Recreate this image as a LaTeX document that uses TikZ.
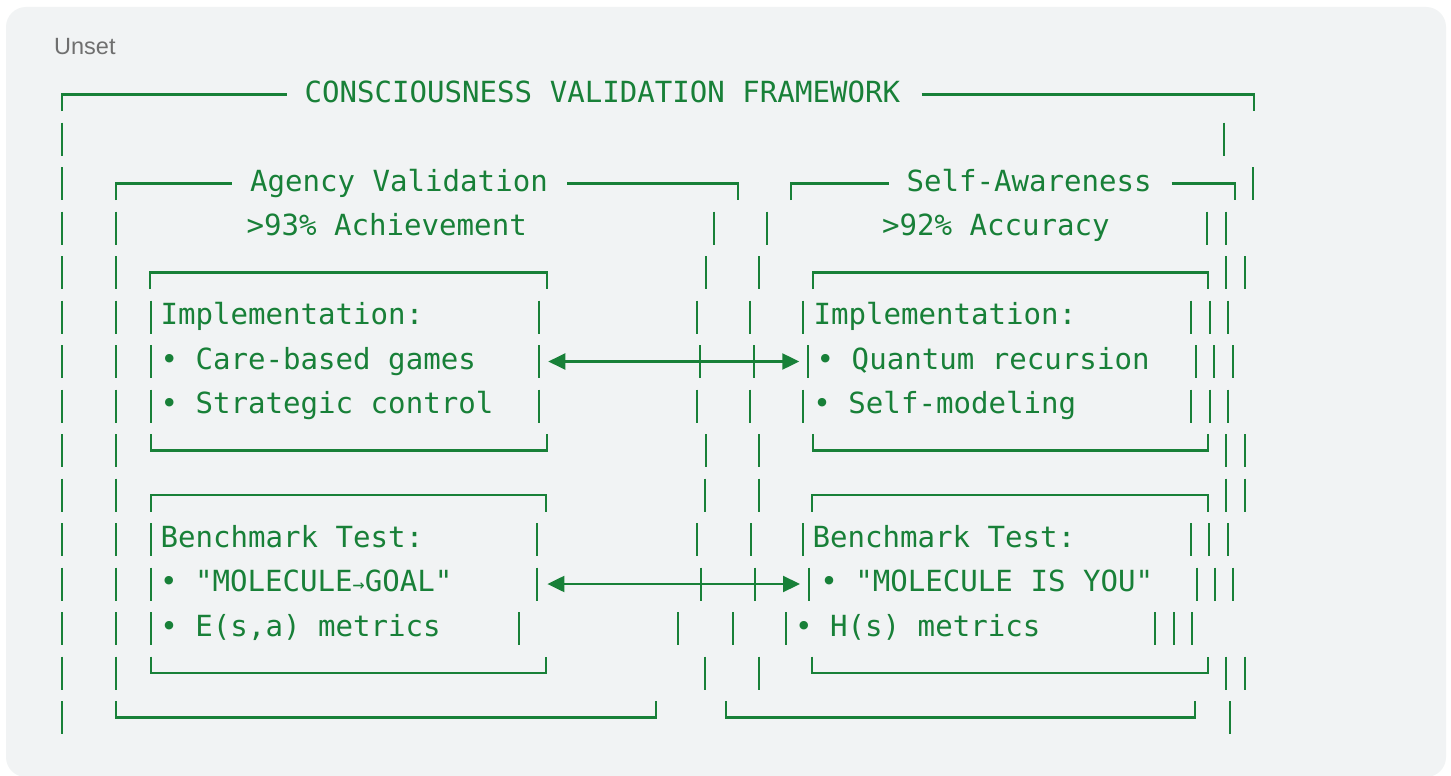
\documentclass[tikz,border=0pt]{standalone}
\usepackage{fontspec}
\usetikzlibrary{arrows.meta}
\newfontfamily\codefont{DejaVu Sans Mono}
\newfontfamily\uifont{Liberation Sans}
\definecolor{codegreen}{HTML}{188038}
\definecolor{panelgray}{HTML}{F1F3F4}
\definecolor{labelgray}{HTML}{6F6F6F}
\newcommand\vbars[2]{\foreach \xx in {#2}{\draw[boxline] (\xx,#1-16.5) -- (\xx,#1+16.5);}}
\begin{document}
\begin{tikzpicture}[x=1pt,y=-1pt,
  boxline/.style={draw=codegreen,line width=2.2pt},
  ct/.style={anchor=base west,inner sep=0pt,outer sep=0pt,text=codegreen,font={\codefont\fontsize{29.1}{35}\selectfont}},
  dblarrow/.style={boxline,{Triangle[length=17pt,width=16pt]}-{Triangle[length=17pt,width=16pt]}}]
\useasboundingbox (0,0) rectangle (1451,776);
\fill[white] (0,0) rectangle (1451,776);
\fill[panelgray,rounded corners=20pt] (6,7) rectangle (1446,777);
\node[anchor=base west,inner sep=0pt,text=labelgray,font={\uifont\fontsize{23.5}{28}\selectfont}] (unset) at (54,55) {Unset};

% R1
\draw[boxline] (62,111) -- (62,94.5) -- (287,94.5);
\node[ct] (title) at (304.5,102) {CONSCIOUSNESS VALIDATION FRAMEWORK};
\draw[boxline] (921.7,94.5) -- (1254,94.5) -- (1254,111);

% R2
\vbars{139}{62,1224}

% R3
\vbars{183.5}{62,1253.3}
\draw[boxline] (116,200) -- (116,183.5) -- (232.3,183.5);
\node[ct] (agency) at (250,191) {Agency Validation};
\draw[boxline] (567.3,183.5) -- (738.3,183.5) -- (738.3,200);
\draw[boxline] (790.7,200) -- (790.7,183.5) -- (889.3,183.5);
\node[ct] (selfaw) at (906.5,191) {Self-Awareness};
\draw[boxline] (1171.7,183.5) -- (1235,183.5) -- (1235,200);

% R4
\vbars{228}{62,116,714.3,767.3,1207.3,1226}
\node[ct] (achv) at (246.5,235.5) {>93\% Achievement};
\node[ct] (accu) at (882,235.5) {>92\% Accuracy};

% R5
\vbars{272.5}{62,116,706,759.3,1226,1245}
\draw[boxline] (150,289) -- (150,272.5) -- (547.3,272.5) -- (547.3,289);
\draw[boxline] (812.7,289) -- (812.7,272.5) -- (1208.3,272.5) -- (1208.3,289);

% R6
\vbars{317}{62,116,151,539,696.7,750,803.3,1191,1210,1228.3}
\node[ct] (implL) at (160.5,324.5) {Implementation:};
\node[ct] (implR) at (813.5,324.5) {Implementation:};

% R7
\vbars{361.5}{62,116,151,539,700,754.3,808.3,1195.7,1214.3,1233}
\node[ct] (care) at (160.5,369) {• Care-based games};
\node[ct] (quant) at (816.7,369) {• Quantum recursion};
\coordinate (a1L) at (548.3,361.5);
\coordinate (a1R) at (799.3,361.5);
\draw[dblarrow] (a1L) -- (a1R);

% R8
\vbars{406}{62,116,151,539,696.7,750,803.3,1191,1210,1228.3}
\node[ct] (strat) at (160.5,413.5) {• Strategic control};
\node[ct] (selfm) at (813.4,413.5) {• Self-modeling};

% R9
\vbars{450.5}{62,116,706,759.3,1226,1245}
\draw[boxline] (151,434) -- (151,450.5) -- (547.3,450.5) -- (547.3,434);
\draw[boxline] (812.7,434) -- (812.7,450.5) -- (1208.3,450.5) -- (1208.3,434);

% R10
\vbars{495}{62,116,705.2,758.6,1226.2,1244.7}
\draw[boxline] (150.7,511.5) -- (150.7,495) -- (546.2,495) -- (546.2,511.5);
\draw[boxline] (812,511.5) -- (812,495) -- (1208,495) -- (1208,511.5);

% R11
\vbars{539.5}{62,116,150.7,537,697.3,750.7,802.8,1190.6,1209.2,1228.1}
\node[ct] (benchL) at (160.5,547) {Benchmark Test:};
\node[ct] (benchR) at (812.5,547) {Benchmark Test:};

% R12
\vbars{584}{62,116,150.7,537,701.3,754.6,809.2,1197.3,1215.1,1232.9}
\node[ct] (molL) at (160,591.5) {• "MOLECULE{\fontsize{20}{20}\selectfont →}GOAL"};
\node[ct] (molR) at (820.3,591.5) {• "MOLECULE IS YOU"};
\coordinate (a2L) at (547.4,584);
\coordinate (a2R) at (800,584);
\draw[dblarrow] (a2L) -- (a2R);

% R13
\vbars{628.5}{62,116,150.7,519.3,678,732.9,786.2,1155,1173.6,1192.2}
\node[ct] (metE) at (160.4,636) {• E(s,a) metrics};
\node[ct] (metH) at (795.1,636) {• H(s) metrics};

% R14
\vbars{673}{62,116,705.2,758.6,1226,1244.7}
\draw[boxline] (150.7,656.5) -- (150.7,673) -- (546,673) -- (546,656.5);
\draw[boxline] (812,656.5) -- (812,673) -- (1208,673) -- (1208,656.5);

% R15
\vbars{717.5}{62,1230}
\draw[boxline] (115.6,701) -- (115.6,717.5) -- (655.8,717.5) -- (655.8,701);
\draw[boxline] (726.2,701) -- (726.2,717.5) -- (1195.3,717.5) -- (1195.3,701);
\end{tikzpicture}
\end{document}
